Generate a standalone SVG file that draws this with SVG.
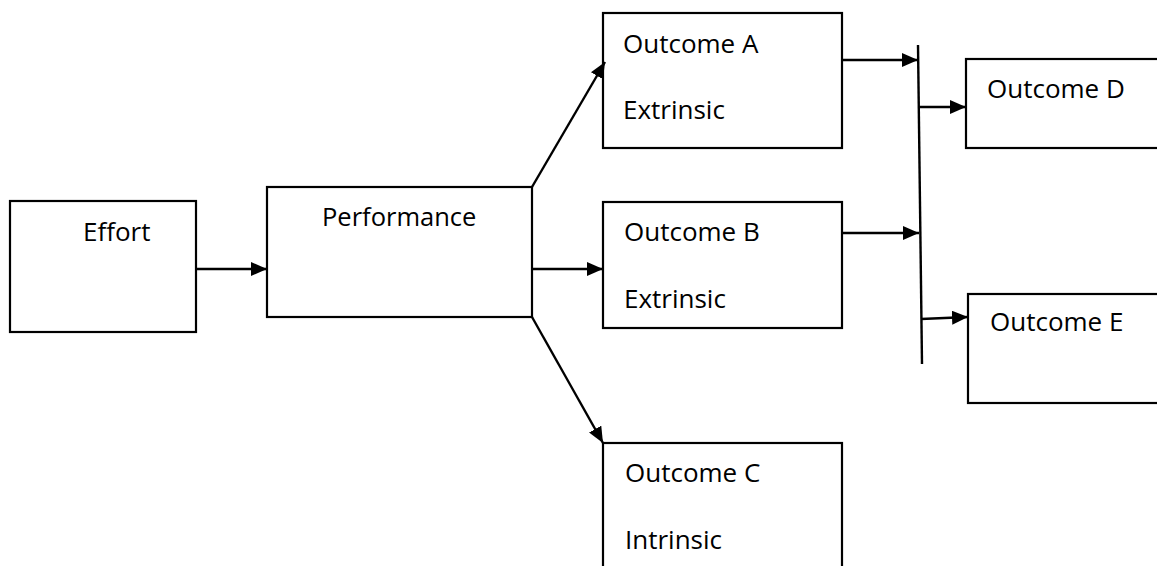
<svg xmlns="http://www.w3.org/2000/svg" width="1157" height="566" viewBox="0 0 1157 566">
<style>
.box{fill:#fff;stroke:#000;stroke-width:2.2}
.lbl{font-family:"Open Sans",sans-serif;font-size:26px;fill:#000}
.ln{stroke:#000;stroke-width:2.4;fill:none}
</style>
<defs>
<marker id="ah" markerUnits="userSpaceOnUse" markerWidth="16" markerHeight="14" refX="16" refY="7" orient="auto">
<path d="M0,0 L16,7 L0,14 z" fill="#000"/>
</marker>
</defs>
<rect width="1157" height="566" fill="#fff"/>
<g id="effort"><rect class="box" x="10" y="201" width="186" height="131"/><text class="lbl" x="83" y="241">Effort</text></g>
<g id="performance"><rect class="box" x="267" y="187" width="265" height="130"/><text class="lbl" x="322" y="226" style="font-size:25.5px">Performance</text></g>
<g id="outcomeA"><rect class="box" x="603" y="13" width="239" height="135"/><text class="lbl" x="623" y="53">Outcome A</text><text class="lbl" x="623" y="119">Extrinsic</text></g>
<g id="outcomeB"><rect class="box" x="603" y="202" width="239" height="126"/><text class="lbl" x="624" y="241">Outcome B</text><text class="lbl" x="624" y="308">Extrinsic</text></g>
<g id="outcomeC"><rect class="box" x="603" y="443" width="239" height="140"/><text class="lbl" x="625" y="482">Outcome C</text><text class="lbl" x="625" y="549">Intrinsic</text></g>
<g id="outcomeD"><rect class="box" x="966" y="59" width="210" height="89"/><text class="lbl" x="987" y="98">Outcome D</text></g>
<g id="outcomeE"><rect class="box" x="968" y="294" width="210" height="109"/><text class="lbl" x="990" y="331">Outcome E</text></g>
<g id="connectors">
<line class="ln" x1="196" y1="269" x2="267" y2="269" marker-end="url(#ah)"/>
<line class="ln" x1="532" y1="187" x2="605" y2="62" marker-end="url(#ah)"/>
<line class="ln" x1="532" y1="269" x2="603" y2="269" marker-end="url(#ah)"/>
<line class="ln" x1="532" y1="317" x2="603" y2="443" marker-end="url(#ah)"/>
<line class="ln" x1="842" y1="60" x2="918" y2="60" marker-end="url(#ah)"/>
<line class="ln" x1="843" y1="233" x2="919" y2="233" marker-end="url(#ah)"/>
<line class="ln" x1="918" y1="45" x2="922" y2="364"/>
<line class="ln" x1="919" y1="107" x2="966" y2="107" marker-end="url(#ah)"/>
<line class="ln" x1="921" y1="319" x2="968" y2="317" marker-end="url(#ah)"/>
</g>
</svg>
